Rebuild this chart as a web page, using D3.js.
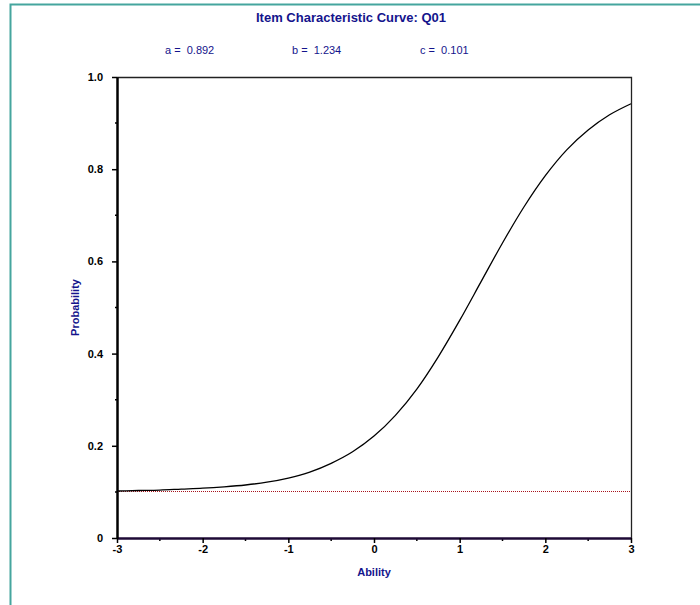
<!DOCTYPE html>
<html>
<head>
<meta charset="utf-8">
<script src="https://cdn.jsdelivr.net/npm/d3@7"></script>
<style>
body { margin: 0; background: #fff; }
text { font-family: "Liberation Sans", Arial, sans-serif; }
</style>
</head>
<body>
<script>
// ability points and probability
var ability = [-3, -2.75, -2.5, -2.25, -2, -1.75, -1.5, -1.25, -1, -0.75, -0.5, -0.25,
    0, 0.25, 0.5, 0.75, 1, 1.25, 1.5, 1.75, 2, 2.25, 2.5, 2.75, 3];
var probability = [0.102, 0.103, 0.104, 0.106, 0.108, 0.111, 0.115, 0.121, 0.130, 0.143, 0.162, 0.187,
    0.221, 0.266, 0.323, 0.393, 0.472, 0.556, 0.640, 0.718, 0.786, 0.842, 0.885, 0.918, 0.942];
var guessLine = [0.101, 0.101];
var params = ['a =  0.892', 'b =  1.234', 'c =  0.101'];
var xTicks = [-3, -2, -1, 0, 1, 2, 3];
var yTicks = [0, 0.2, 0.4, 0.6, 0.8, 1.0];

var width = 700;
var height = 605;
var plotLeft = 117, plotRight = 631, plotTop = 77, plotBottom = 538;
var navy = '#14148c';

var svg = d3.select('body')
    .append('svg')
    .attr('width', width)
    .attr('height', height);

// outer frame (only top and left visible)
svg.append('path')
    .attr('d', 'M10.5,605 L10.5,4.5 L700,4.5')
    .attr('fill', 'none')
    .attr('stroke', '#45a59e')
    .attr('stroke-width', 2);

var x = d3.scaleLinear().domain([-3, 3]).range([plotLeft, plotRight]);
var y = d3.scaleLinear().domain([0, 1]).range([plotBottom, plotTop]);

svg.append('text')
    .attr('x', 351)
    .attr('y', 22)
    .attr('text-anchor', 'middle')
    .attr('font-size', 13)
    .attr('font-weight', 'bold')
    .attr('fill', navy)
    .text('Item Characteristic Curve: Q01');

var paramX = [165, 292, 420];
svg.selectAll('.param')
    .data(params)
    .enter()
    .append('text')
    .attr('x', function (d, i) { return paramX[i]; })
    .attr('y', 54)
    .attr('font-size', 11)
    .attr('fill', navy)
    .style('white-space', 'pre')
    .text(function (d) { return d; });

// top and right frame of the plot
svg.append('path')
    .attr('d', 'M' + plotLeft + ',' + (plotTop + 0.5) + ' L' + (plotRight + 0.5) + ',' + (plotTop + 0.5) + ' L' + (plotRight + 0.5) + ',' + plotBottom)
    .attr('fill', 'none')
    .attr('stroke', '#222')
    .attr('stroke-width', 1.3);

// guessing parameter line
svg.append('line')
    .attr('x1', x(-3))
    .attr('x2', x(3))
    .attr('y1', Math.round(y(guessLine[0])) + 0.5)
    .attr('y2', Math.round(y(guessLine[1])) + 0.5)
    .attr('stroke', '#a8141e')
    .attr('stroke-width', 1)
    .attr('stroke-dasharray', '1,1');

var line = d3.line()
    .x(function (d, i) { return x(ability[i]); })
    .y(function (d) { return y(d); })
    .curve(d3.curveMonotoneX);

svg.append('path')
    .datum(probability)
    .attr('d', line)
    .attr('fill', 'none')
    .attr('stroke', '#000')
    .attr('stroke-width', 1.3);

// minor ticks
var xMinor = d3.range(-2.5, 3, 1);
svg.selectAll('.xminor')
    .data(xMinor)
    .enter()
    .append('line')
    .attr('x1', function (d) { return x(d); })
    .attr('x2', function (d) { return x(d); })
    .attr('y1', plotBottom)
    .attr('y2', plotBottom + 3)
    .attr('stroke', '#000')
    .attr('stroke-width', 1.5);

var yMinor = [0.1, 0.3, 0.5, 0.7, 0.9];
svg.selectAll('.yminor')
    .data(yMinor)
    .enter()
    .append('line')
    .attr('x1', plotLeft - 2)
    .attr('x2', plotLeft)
    .attr('y1', function (d) { return y(d); })
    .attr('y2', function (d) { return y(d); })
    .attr('stroke', '#000')
    .attr('stroke-width', 1.5);

var xAxis = svg.append('g')
    .attr('transform', 'translate(0,' + plotBottom + ')')
    .call(d3.axisBottom(x).tickValues(xTicks).tickSize(5).tickPadding(2).tickSizeOuter(0)
        .tickFormat(function (d) { return String(d); }));
xAxis.select('.domain').attr('stroke', '#1e0a36').attr('stroke-width', 2.5);
xAxis.selectAll('.tick line').attr('stroke', '#000').attr('stroke-width', 1.5);
xAxis.selectAll('.tick text')
    .attr('font-size', 11)
    .attr('font-weight', 'bold')
    .attr('fill', '#000')
    .attr('font-family', '"Liberation Sans", Arial, sans-serif');

var yAxis = svg.append('g')
    .attr('transform', 'translate(' + plotLeft + ',0)')
    .call(d3.axisLeft(y).tickValues(yTicks).tickSize(5).tickPadding(9).tickSizeOuter(0)
        .tickFormat(function (d) { return d === 0 ? '0' : d.toFixed(1); }));
yAxis.select('.domain').attr('stroke', '#000').attr('stroke-width', 2.5);
yAxis.selectAll('.tick line').attr('stroke', '#000').attr('stroke-width', 1.5);
yAxis.selectAll('.tick text')
    .attr('font-size', 11)
    .attr('font-weight', 'bold')
    .attr('fill', '#000')
    .attr('font-family', '"Liberation Sans", Arial, sans-serif');

svg.append('text')
    .attr('x', x(0))
    .attr('y', 576)
    .attr('text-anchor', 'middle')
    .attr('font-size', 11)
    .attr('font-weight', 'bold')
    .attr('fill', navy)
    .text('Ability');

svg.append('text')
    .attr('transform', 'translate(79,' + ((plotTop + plotBottom) / 2) + ') rotate(-90)')
    .attr('text-anchor', 'middle')
    .attr('font-size', 11)
    .attr('font-weight', 'bold')
    .attr('fill', navy)
    .text('Probability');
</script>
</body>
</html>
